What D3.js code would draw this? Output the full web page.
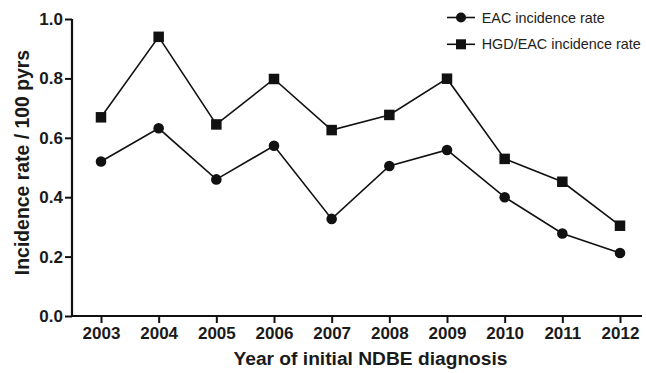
<!DOCTYPE html>
<html>
<head>
<meta charset="utf-8">
<script src="https://cdn.jsdelivr.net/npm/d3@7"></script>
<style>
  html, body { margin: 0; padding: 0; background: #fff; }
  svg { display: block; font-family: "Liberation Sans", Arial, Helvetica, sans-serif; }
</style>
</head>
<body>
<svg id="chart" width="646" height="373"></svg>
<script>
// Incidence rates per 100 person-years by year of initial NDBE diagnosis
const years = [2003, 2004, 2005, 2006, 2007, 2008, 2009, 2010, 2011, 2012];
const eacRate = [0.52, 0.632, 0.46, 0.573, 0.327, 0.505, 0.559, 0.40, 0.278, 0.212];
const hgdEacRate = [0.669, 0.940, 0.645, 0.798, 0.626, 0.677, 0.799, 0.529, 0.452, 0.304];
const yTicks = [0.0, 0.2, 0.4, 0.6, 0.8, 1.0];
const seriesNames = ["EAC incidence rate", "HGD/EAC incidence rate"];

const svg = d3.select("#chart");
const margin = { left: 72, top: 19, bottom: 57 };
const plotBottom = 373 - margin.bottom; // 316

const x = d3.scalePoint()
  .domain(years)
  .range([101, 620]);

const y = d3.scaleLinear()
  .domain([0, 1])
  .range([plotBottom, margin.top]);

// Y axis
const yAxis = svg.append("g")
  .attr("transform", `translate(${margin.left},0)`)
  .call(d3.axisLeft(y).tickValues(yTicks).tickFormat(d3.format(".1f")).tickSize(7).tickPadding(2));
yAxis.select(".domain").attr("d", `M0,${y(1)}V${plotBottom}`);

// X axis
const xAxis = svg.append("g")
  .attr("transform", `translate(0,${plotBottom})`)
  .call(d3.axisBottom(x).tickFormat(d3.format("d")).tickSize(7).tickPadding(4));
xAxis.select(".domain").attr("d", `M${margin.left},0H642`);

svg.selectAll(".domain").attr("stroke", "#111").attr("stroke-width", 2.2);
svg.selectAll(".tick line").attr("stroke", "#111").attr("stroke-width", 2);
svg.selectAll(".tick text")
  .attr("fill", "#1a1a1a")
  .style("font-size", "17px")
  .style("font-weight", "bold");

// Axis titles
svg.append("text")
  .attr("transform", `translate(29,162.5) rotate(-90)`)
  .attr("text-anchor", "middle")
  .style("font-size", "19.4px")
  .style("font-weight", "bold")
  .attr("fill", "#1a1a1a")
  .text("Incidence rate / 100 pyrs");

svg.append("text")
  .attr("x", 370.5)
  .attr("y", 365)
  .attr("text-anchor", "middle")
  .style("font-size", "19.2px")
  .style("font-weight", "bold")
  .attr("fill", "#1a1a1a")
  .text("Year of initial NDBE diagnosis");

// Lines and markers
const line = d3.line().x((d, i) => x(years[i])).y(d => y(d));

function drawSeries(values, shape) {
  svg.append("path")
    .datum(values)
    .attr("fill", "none")
    .attr("stroke", "#111")
    .attr("stroke-width", 1.6)
    .attr("d", line);
  const g = svg.append("g");
  if (shape === "circle") {
    g.selectAll("circle").data(values).join("circle")
      .attr("cx", (d, i) => x(years[i]))
      .attr("cy", d => y(d))
      .attr("r", 5.3)
      .attr("fill", "#111");
  } else {
    const s = 10.5;
    g.selectAll("rect").data(values).join("rect")
      .attr("x", (d, i) => x(years[i]) - s / 2)
      .attr("y", d => y(d) - s / 2)
      .attr("width", s)
      .attr("height", s)
      .attr("fill", "#111");
  }
}
drawSeries(eacRate, "circle");
drawSeries(hgdEacRate, "square");

// Legend
const legend = svg.append("g").attr("transform", "translate(447,0)");
const legendRows = [
  { name: seriesNames[0], shape: "circle", cy: 17.5 },
  { name: seriesNames[1], shape: "square", cy: 44.3 }
];
legendRows.forEach(r => {
  legend.append("line")
    .attr("x1", 0).attr("x2", 28)
    .attr("y1", r.cy).attr("y2", r.cy)
    .attr("stroke", "#111").attr("stroke-width", 1.6);
  if (r.shape === "circle") {
    legend.append("circle").attr("cx", 14).attr("cy", r.cy).attr("r", 5).attr("fill", "#111");
  } else {
    legend.append("rect").attr("x", 14 - 5).attr("y", r.cy - 5)
      .attr("width", 10).attr("height", 10).attr("fill", "#111");
  }
  legend.append("text")
    .attr("x", 34.7).attr("y", r.cy)
    .attr("dy", "0.35em")
    .style("font-size", "14.4px")
    .attr("fill", "#222")
    .text(r.name);
});
</script>
</body>
</html>
